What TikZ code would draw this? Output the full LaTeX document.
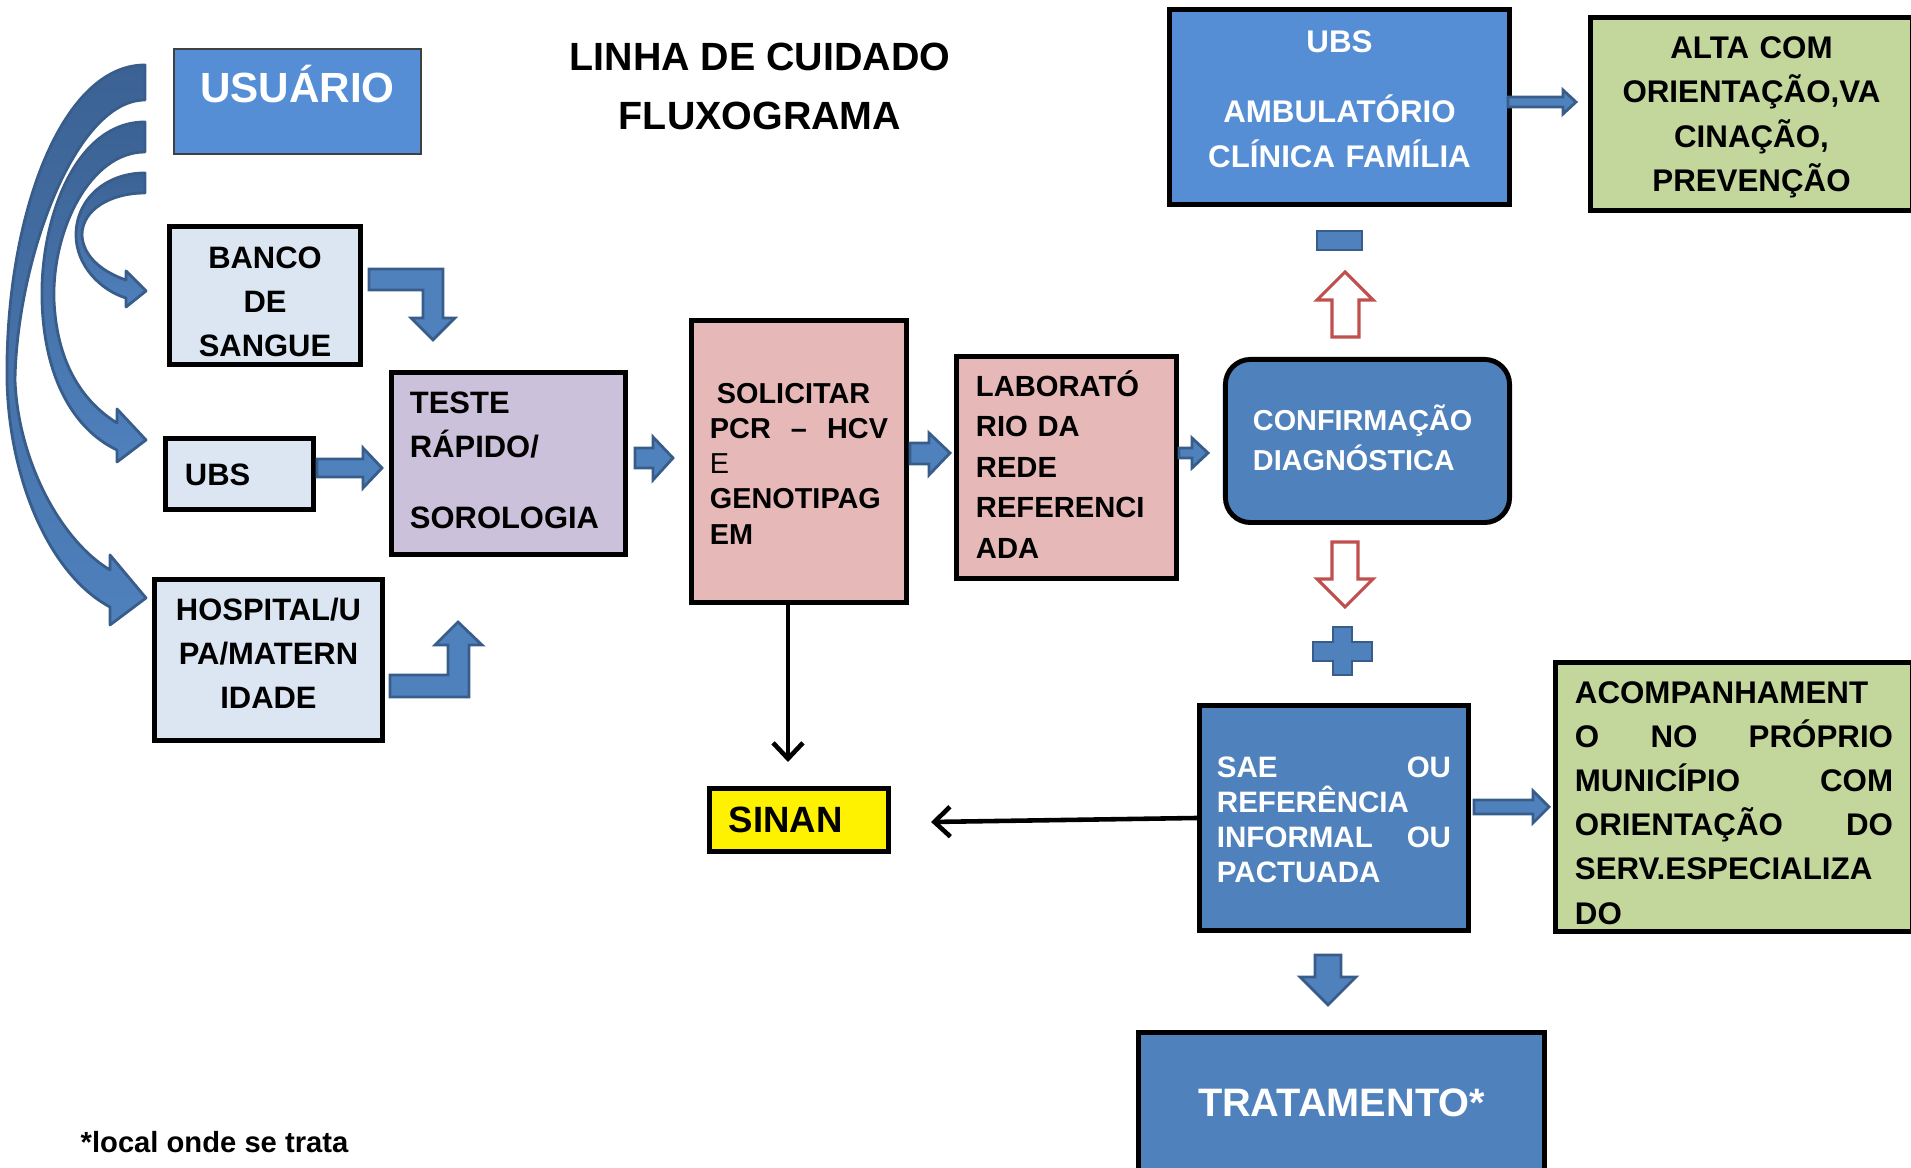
\documentclass[tikz,border=0pt]{standalone}
\usepackage{fontspec}
\setmainfont{Liberation Sans}
\usetikzlibrary{arrows.meta}

\definecolor{usrblue}{RGB}{85,142,213}
\definecolor{midblue}{RGB}{79,129,189}
\definecolor{arrdark}{RGB}{56,93,138}
\definecolor{arrtop}{RGB}{60,98,148}
\definecolor{paleblue}{RGB}{220,230,242}
\definecolor{lilac}{RGB}{204,193,218}
\definecolor{rose}{RGB}{230,185,184}
\definecolor{leaf}{RGB}{195,214,155}
\definecolor{redline}{RGB}{192,80,77}

\begin{document}
\begin{tikzpicture}[x=0.01cm,y=-0.01cm,>={Straight Barb[length=4.5pt,width=8.5pt]},
    box/.style={draw,line width=1.4pt,inner sep=0pt},
    blk/.style={fill=midblue,draw=arrdark,line width=0.8pt},
    curv/.style={draw=arrdark,line width=0.8pt,line join=round,top color=arrtop,bottom color=midblue},
    hollow/.style={draw=redline,fill=white,line width=0.9pt},
    link/.style={->,line width=1.3pt}]
    \useasboundingbox (0,0) rectangle (1911,1168);

    \node[box,draw=black!75,line width=0.6pt,fill=usrblue,text=white,minimum width=2.47cm,minimum height=1.05cm,
      text width=2.3cm,align=center,text height=0.012cm,text depth=0pt,
      font=\bfseries\fontsize{12}{14}\selectfont] (usr) at (297.5,101.5) {USUÁRIO};
    \node[align=center,font=\bfseries\fontsize{11.2}{16.8}\selectfont] (titulo) at (760,86) {LINHA DE CUIDADO\\FLUXOGRAMA};

    \node[box,fill=paleblue,minimum width=1.91cm,minimum height=1.38cm,text width=1.8cm,align=center,
      text height=0pt,text depth=0.53cm,font=\bfseries\fontsize{8.8}{12.5}\selectfont] (banco) at (265,295.5)
      {BANCO\\DE\\SANGUE};
    \node[box,fill=paleblue,minimum width=1.48cm,minimum height=0.71cm,text width=1.09cm,align=left,
      text height=0.24cm,text depth=0pt,font=\bfseries\fontsize{8.8}{12.5}\selectfont] (ubs) at (239.5,474) {UBS};
    \node[box,fill=paleblue,minimum width=2.28cm,minimum height=1.61cm,text width=2.2cm,align=center,
      text height=0pt,text depth=0.78cm,font=\bfseries\fontsize{8.8}{12.5}\selectfont] (hosp) at (268.5,660)
      {HOSPITAL/U\\PA/MATERN\\IDADE};
    \node[box,fill=lilac,minimum width=2.34cm,minimum height=1.82cm,text width=1.97cm,align=left,
      text height=0pt,text depth=0.99cm,font=\bfseries\fontsize{8.8}{12.5}\selectfont] (teste) at (508.5,463.5)
      {TESTE\\RÁPIDO/\\[7.7pt]SOROLOGIA};
    \node[box,fill=rose,minimum width=2.15cm,minimum height=2.82cm,text width=1.78cm,align=left,
      text height=0pt,text depth=1.16cm,font=\bfseries\fontsize{8.2}{10}\selectfont] (sol) at (799,461.5)
      {\hspace*{0.7mm}SOLICITAR\\PCR\hfill–\hfill HCV\\{\mdseries E}\\GENOTIPAG\\EM};
    \node[box,fill=rose,minimum width=2.2cm,minimum height=2.22cm,text width=1.81cm,align=left,
      text height=0pt,text depth=1.42cm,font=\bfseries\fontsize{8.3}{11.5}\selectfont] (lab) at (1066.5,467.5)
      {LABORATÓ\\RIO DA\\REDE\\REFERENCI\\ADA};
    \node[box,rounded corners=0.25cm,fill=midblue,text=white,minimum width=2.84cm,minimum height=1.63cm,
      text width=2.29cm,align=left,text height=0pt,text depth=0.21cm,
      font=\bfseries\fontsize{8.2}{11.4}\selectfont] (conf) at (1367.5,441) {CONFIRMAÇÃO\\DIAGNÓSTICA};
    \node[box,fill=usrblue,text=white,minimum width=3.4cm,minimum height=1.95cm,text width=3.2cm,align=center,
      text height=0pt,text depth=1.08cm,font=\bfseries\fontsize{8.9}{12.8}\selectfont] (amb) at (1339.5,107)
      {UBS\\[7.1pt]AMBULATÓRIO\\CLÍNICA FAMÍLIA};
    \node[box,fill=leaf,minimum width=3.22cm,minimum height=1.93cm,text width=3.1cm,align=center,
      text height=0pt,text depth=1.11cm,font=\bfseries\fontsize{8.9}{12.6}\selectfont] (alta) at (1751.5,114)
      {ALTA COM\\ORIENTAÇÃO,VA\\CINAÇÃO,\\PREVENÇÃO};
    \node[box,fill=midblue,text=white,minimum width=2.69cm,minimum height=2.25cm,text width=2.34cm,align=left,
      text height=0pt,text depth=0.81cm,font=\bfseries\fontsize{8.4}{10}\selectfont] (sae) at (1334,818)
      {SAE\hfill OU\\REFERÊNCIA\\INFORMAL\hfill OU\\PACTUADA};
    \node[box,fill=leaf,minimum width=3.57cm,minimum height=2.69cm,text width=3.18cm,align=left,
      text height=0pt,text depth=1.87cm,font=\bfseries\fontsize{8.9}{12.55}\selectfont] (acomp) at (1734,797)
      {ACOMPANHAMENT\\O\hfill NO\hfill PRÓPRIO\\MUNICÍPIO\hfill COM\\ORIENTAÇÃO\hfill DO\\SERV.ESPECIALIZA\\DO};
    \node[box,fill=midblue,text=white,minimum width=4.06cm,minimum height=1.39cm,
      font=\bfseries\fontsize{11.3}{13}\selectfont] (trat) at (1341.5,1102.5) {TRATAMENTO*};
    \node[box,fill=yellow,minimum width=1.79cm,minimum height=0.63cm,text width=1.4cm,align=left,
      font=\bfseries\fontsize{10.4}{12}\selectfont] (sinan) at (799,820) {SINAN};
    \node[anchor=west,inner sep=0pt,font=\bfseries\fontsize{8.3}{10}\selectfont] (nota) at (80,1142) {*local onde se trata};

    \draw[link] ([xshift=-0.11cm]sol.south) -- ([xshift=-0.11cm,yshift=0.24cm]sinan.north);
    \draw[link] (sae.west) -- ([xshift=0.4cm,yshift=-0.02cm]sinan.east);

    \path[curv] (145,65) .. controls (60,65) and (5,220) .. (7,380) .. controls (9,480) and (50,575) .. (110,607)
      -- (110,625) -- (146,598) -- (110,555) -- (110,570) .. controls (60,540) and (18,460) .. (15,380)
      .. controls (17,260) and (75,100) .. (145,100) -- cycle;
    \path[curv] (145,122) .. controls (75,122) and (40,220) .. (42,300) .. controls (44,380) and (75,430) .. (117,450)
      -- (117,462) -- (146,440) -- (117,409) -- (117,423) .. controls (88,405) and (57,370) .. (54,300)
      .. controls (52,230) and (90,152) .. (145,152) -- cycle;
    \path[curv] (145,173) .. controls (105,173) and (76,200) .. (76,235) .. controls (76,265) and (100,290) .. (126,298)
      -- (126,307) -- (146,291) -- (126,271) -- (126,280) .. controls (105,273) and (83,258) .. (82,235)
      .. controls (82,210) and (110,193) .. (145,193) -- cycle;

    \draw[blk] (369,269) -- (443,269) -- (443,318) -- (455,318) -- (433,340) -- (411,318) -- (423,318) -- (423,290) -- (369,290) -- cycle;
    \draw[blk] (390,675) -- (448,675) -- (448,645) -- (435,645) -- (458,622) -- (482,645) -- (469,645) -- (469,697) -- (390,697) -- cycle;
    \draw[blk] (317,459) -- (363,459) -- (363,448) -- (382,468) -- (363,488) -- (363,477) -- (317,477) -- cycle;
    \draw[blk] (635,448) -- (653,448) -- (653,437) -- (673,458) -- (653,480) -- (653,468) -- (635,468) -- cycle;
    \draw[blk] (910,443) -- (929,443) -- (929,433) -- (950,453) -- (929,475) -- (929,464) -- (910,464) -- cycle;
    \draw[blk] (1179,448) -- (1192,448) -- (1192,438) -- (1208,453) -- (1192,468) -- (1192,458) -- (1179,458) -- cycle;
    \draw[blk] (1508,97) -- (1563,97) -- (1563,90) -- (1576,102) -- (1563,114) -- (1563,107) -- (1508,107) -- cycle;
    \draw[blk] (1474,800) -- (1533,800) -- (1533,791) -- (1549,807) -- (1533,823) -- (1533,814) -- (1474,814) -- cycle;
    \draw[blk] (1315,955) -- (1341,955) -- (1341,977) -- (1356,977) -- (1328,1005) -- (1300,977) -- (1315,977) -- cycle;

    \draw[hollow] (1332,337) -- (1359,337) -- (1359,300) -- (1373,300) -- (1345,272) -- (1317,300) -- (1332,300) -- cycle;
    \draw[hollow] (1332,542) -- (1358,542) -- (1358,579) -- (1373,579) -- (1345,607) -- (1317,579) -- (1332,579) -- cycle;
    \draw[blk] (1317,231) rectangle (1362,250);
    \draw[blk] (1333,627) -- (1352,627) -- (1352,642) -- (1372,642) -- (1372,661) -- (1352,661) -- (1352,675)
      -- (1333,675) -- (1333,661) -- (1313,661) -- (1313,642) -- (1333,642) -- cycle;
\end{tikzpicture}
\end{document}
